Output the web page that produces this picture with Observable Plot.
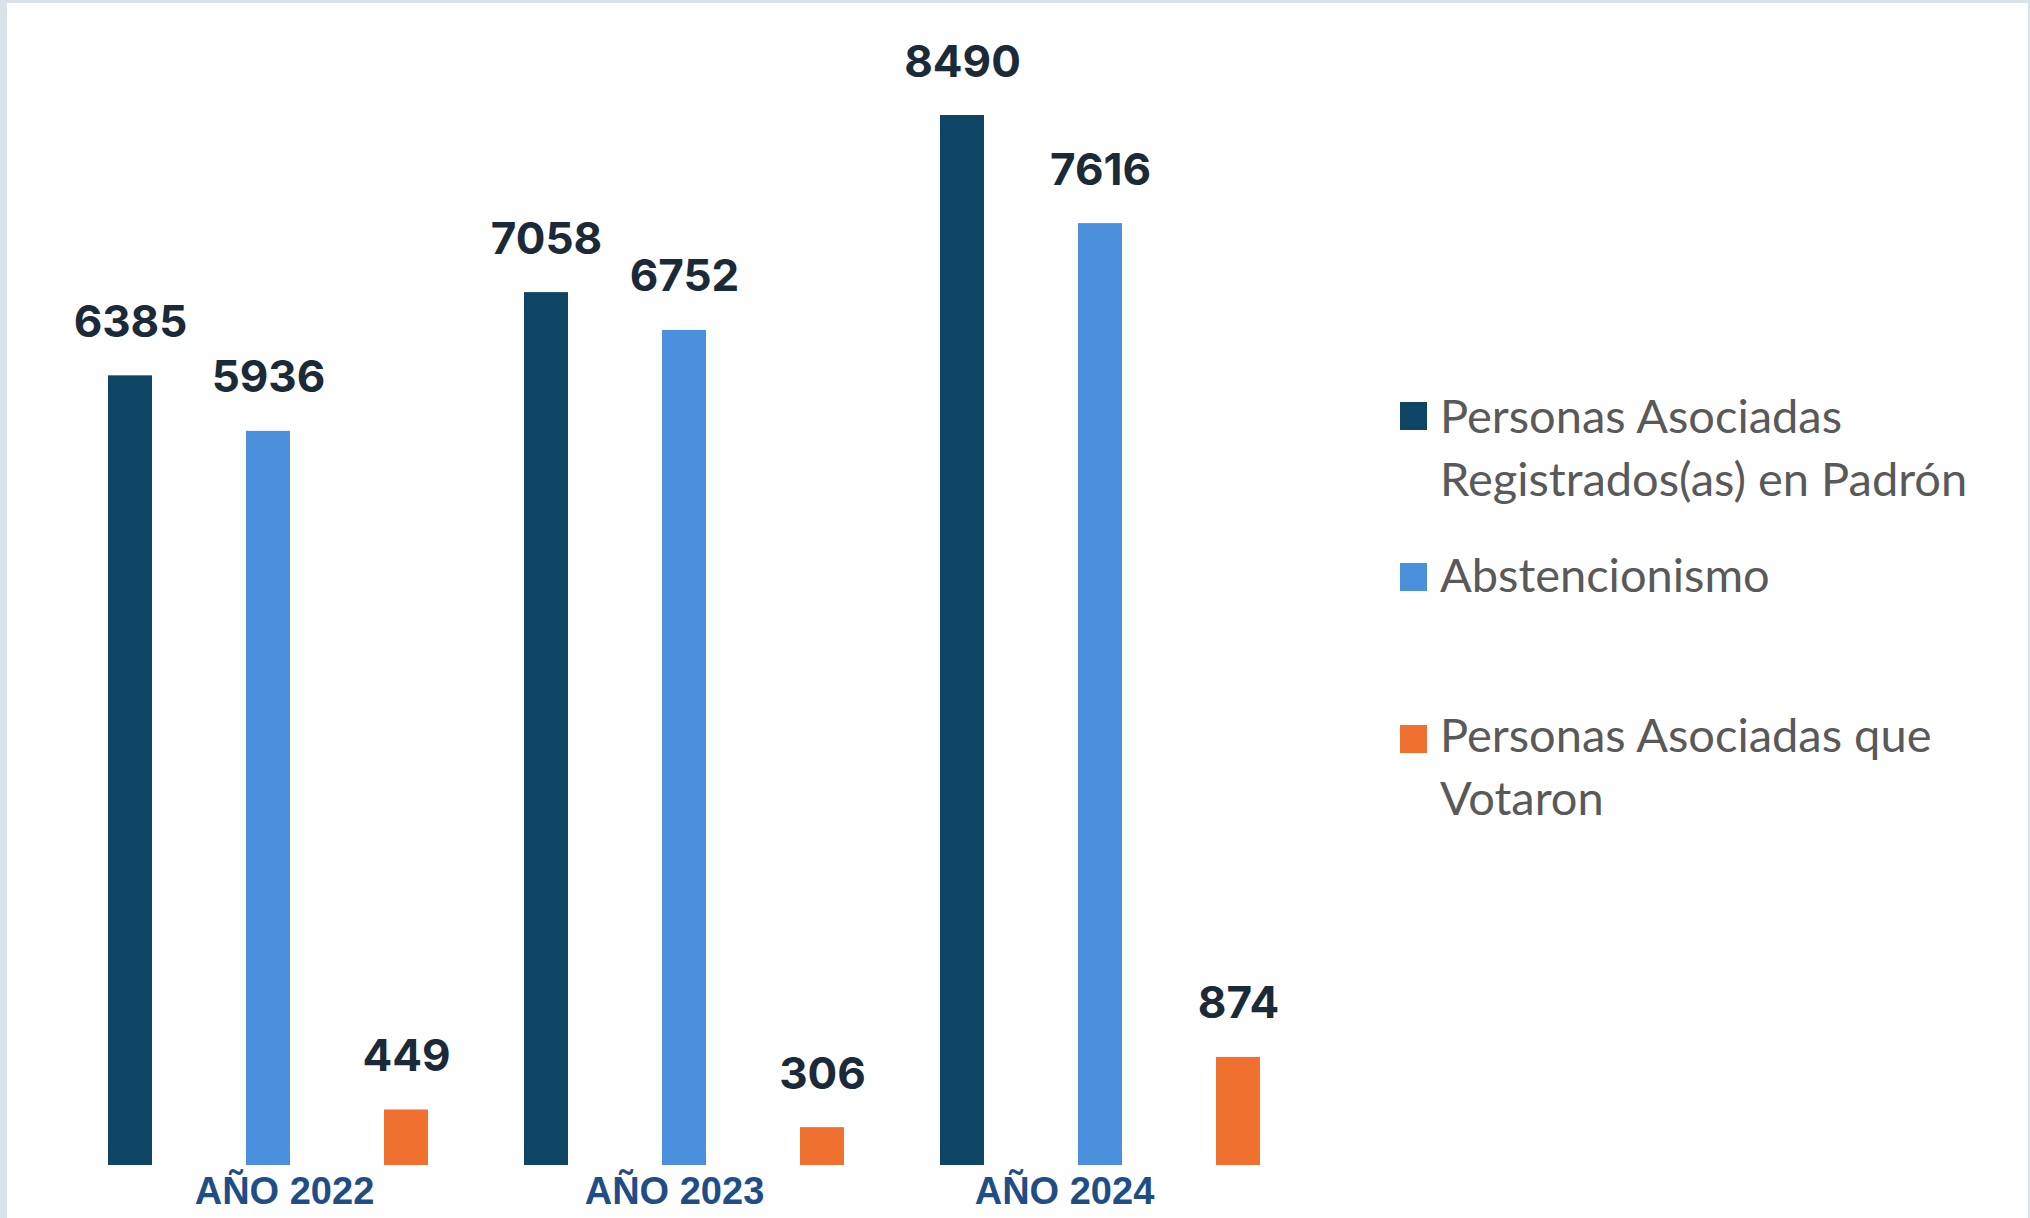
<!DOCTYPE html>
<html>
<head>
<meta charset="utf-8">
<script src="https://cdn.jsdelivr.net/npm/d3@7"></script>
<script src="https://cdn.jsdelivr.net/npm/@observablehq/plot@0.6"></script>
<style>
  html, body { margin: 0; padding: 0; }
  body { width: 2030px; height: 1218px; background: #d9e2e8; overflow: hidden; position: relative; }
  #card { position: absolute; left: 7px; top: 3px; width: 2021px; height: 1215px; background: #ffffff; }
  #chart, #axis { position: absolute; left: 0; top: 0; }
  .lg-item { position: absolute; left: 1393px; }
  .lg-sw { position: absolute; left: 0; width: 27px; height: 28px; }
  .lg-tx { position: absolute; left: 40px; width: 560px; font-family: Lato, "Noto Sans", sans-serif; font-size: 47px; line-height: 63px; color: #595959; }
</style>
</head>
<body>
<div id="card"><div id="chart"></div><div id="axis"></div></div>
<script>
// ---- data ----
const years = ["2022", "2023", "2024"];
const yearLabels = ["AÑO 2022", "AÑO 2023", "AÑO 2024"];
const series = [
  "Personas Asociadas Registrados(as) en Padrón",
  "Abstencionismo",
  "Personas Asociadas que Votaron"
];
const registrados = [6385, 7058, 8490];
const abstencionismo = [5936, 6752, 7616];
const votaron = [449, 306, 874];
const colors = ["#0f4564", "#4a90dc", "#f07030"];

const valuesBySeries = [registrados, abstencionismo, votaron];
const data = years.flatMap((y, i) =>
  series.map((s, j) => ({ year: y, serie: s, value: valuesBySeries[j][i] }))
);

const chart = Plot.plot({
  width: 1380,
  height: 1215,
  marginTop: 112,
  marginBottom: 53,
  marginLeft: 53,
  marginRight: 79,
  style: { background: "transparent", overflow: "visible" },
  fx: { domain: years, padding: 0, axis: null },
  x: { domain: series, paddingInner: 0.6825, paddingOuter: 0.34125, axis: null },
  y: { domain: [0, 8490], axis: null },
  color: { domain: series, range: colors },
  marks: [
    Plot.barY(data, { fx: "year", x: "serie", y: "value", fill: "serie" }),
    Plot.text(data, {
      fx: "year", x: "serie", y: "value",
      text: d => String(d.value),
      lineAnchor: "bottom", dy: -39,
      fontSize: 44, fontWeight: 700, fontFamily: "Inter, 'Liberation Sans', sans-serif",
      fill: "#1b2a38"
    })
  ]
});
document.getElementById("chart").appendChild(chart);

// category axis labels (offset category axis, as in the original)
const axis = Plot.plot({
  width: 1380,
  height: 1215,
  marginTop: 112,
  marginBottom: 53,
  marginLeft: 277,
  marginRight: 323,
  style: { background: "transparent", overflow: "visible" },
  x: { type: "point", domain: years, padding: 0, axis: null },
  marks: [
    Plot.text(years, {
      x: d => d,
      text: (d, i) => yearLabels[i],
      frameAnchor: "bottom", lineAnchor: "bottom", dy: 38,
      fontSize: 38, fontWeight: 700, fontFamily: "'Liberation Sans', Arial, sans-serif",
      fill: "#1f4e86"
    })
  ]
});
document.getElementById("axis").appendChild(axis);

// ---- legend (right side) ----
const card = document.getElementById("card");
const swatchTops = [399, 560, 722];
const textTops = [381, 540, 700];
series.forEach((s, j) => {
  const item = document.createElement("div");
  item.className = "lg-item";
  item.style.top = "0px";
  const sw = document.createElement("div");
  sw.className = "lg-sw";
  sw.style.top = swatchTops[j] + "px";
  sw.style.background = colors[j];
  const tx = document.createElement("div");
  tx.className = "lg-tx";
  tx.style.top = textTops[j] + "px";
  tx.textContent = s;
  item.appendChild(sw);
  item.appendChild(tx);
  card.appendChild(item);
});
</script>
</body>
</html>
